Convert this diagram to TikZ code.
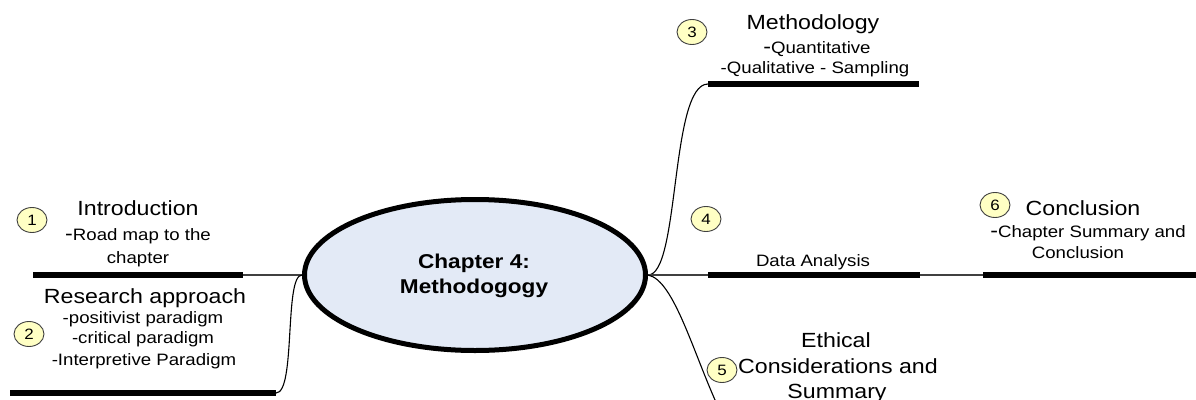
\documentclass[tikz,border=0pt]{standalone}
\usepackage{fontspec}
\setmainfont{Liberation Sans}[FakeStretch=1.13]
\usetikzlibrary{shapes.geometric}
\definecolor{corefill}{HTML}{E3EAF6}
\definecolor{numfill}{HTML}{FFFFC4}
\begin{document}
\begin{tikzpicture}[x=1pt,y=-1pt,
  bar/.style={line width=5.5pt, line cap=butt},
  thinline/.style={line width=1.3pt, draw=black!75},
  curveline/.style={line width=1.1pt},
  num/.style={ellipse, draw=black!75, line width=0.9pt, fill=numfill, minimum width=30pt, minimum height=25pt, inner sep=0pt, font=\fontsize{15}{15}\selectfont},
  big/.style={font=\fontsize{20.5}{24}\selectfont, anchor=base, inner sep=0pt},
  small/.style={font=\fontsize{16.5}{20}\selectfont, anchor=base, inner sep=0pt},
  corefont/.style={font=\fontsize{20}{24}\selectfont\bfseries, anchor=base, inner sep=0pt}]
\useasboundingbox (0,0) rectangle (1196,399);
\clip (0,0) rectangle (1196,399);

% central node
\node[ellipse, draw, line width=5pt, fill=corefill, minimum width=341pt, minimum height=151pt] (core) at (475,275) {};
\node[corefont] (c1) at (474,268) {Chapter 4:};
\node[corefont] (c2) at (474,293) {Methodogogy};

% bars
\coordinate (b1l) at (33,275);  \coordinate (b1r) at (243,275);
\coordinate (b2l) at (10,393);  \coordinate (b2r) at (276,393);
\coordinate (b3l) at (708,84);  \coordinate (b3r) at (919,84);
\coordinate (b4l) at (708,275); \coordinate (b4r) at (920,275);
\coordinate (b6l) at (983,275); \coordinate (b6r) at (1196,275);
\coordinate (b5l) at (722,415);

\draw[bar] (b1l) -- (b1r);
\draw[bar] (b2l) -- (b2r);
\draw[bar] (b3l) -- (b3r);
\draw[bar] (b4l) -- (b4r);
\draw[bar] (b6l) -- (b6r);

% connectors
\draw[thinline] (b1r) -- (core.west);
\draw[curveline] (b2r) .. controls (296,393) and (284,275) .. (core.west);
\draw[curveline] (core.east) .. controls (680,275) and (670,84) .. (b3l);
\draw[thinline] (core.east) -- (b4l);
\draw[thinline] (b4r) -- (b6l);
\draw[curveline] (core.east) .. controls (675,280) and (695,360) .. (b5l);

% texts
\node[big] (t1a) at (138,215) {Introduction};
\node[small] (t1b) at (138,240) {{\fontsize{20.5}{24}\selectfont -}Road map to the};
\node[small] (t1c) at (138,263) {chapter};

\node[big] (t2a) at (145,303) {Research approach};
\node[small] (t2b) at (143,323) {-positivist paradigm};
\node[small] (t2c) at (143,343) {-critical paradigm};
\node[small] (t2d) at (144,365) {-Interpretive Paradigm};

\node[big] (t3a) at (813,29) {Methodology};
\node[small] (t3b) at (817,53) {{\fontsize{20.5}{24}\selectfont -}Quantitative};
\node[small] (t3c) at (815,73) {-Qualitative - Sampling};

\node[small] (t4a) at (813,266) {Data Analysis};

\node[big] (t5a) at (836,347) {Ethical};
\node[big] (t5b) at (838,373) {Considerations and};
\node[big] (t5c) at (837,398) {Summary};

\node[big] (t6a) at (1083,215) {Conclusion};
\node[small] (t6b) at (1088,237) {{\fontsize{20.5}{24}\selectfont -}Chapter Summary and};
\node[small] (t6c) at (1078,258) {Conclusion};

% numbers
\node[num] (n1) at (32,220) {1};
\node[num] (n2) at (29,334) {2};
\node[num] (n3) at (692,32) {3};
\node[num] (n4) at (706,219) {4};
\node[num] (n5) at (722,370) {5};
\node[num] (n6) at (995,205) {6};
\end{tikzpicture}
\end{document}
